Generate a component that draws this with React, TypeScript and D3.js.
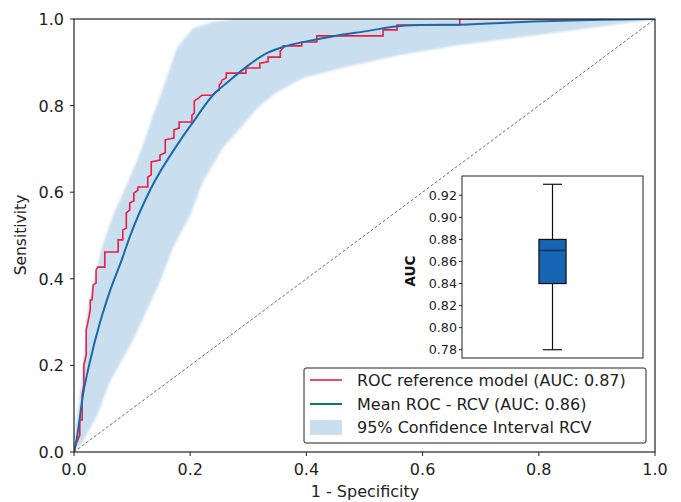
import React from 'react'
import * as d3 from 'd3'

// reference model ROC (staircase corners)
const rocFpr = [0, 0.003, 0.010, 0.010, 0.014, 0.014, 0.017, 0.017, 0.021, 0.021, 0.024, 0.028, 0.028, 0.031, 0.033, 0.038, 0.038, 0.041, 0.053, 0.053, 0.076, 0.076, 0.084, 0.084, 0.090, 0.090, 0.096, 0.096, 0.103, 0.103, 0.110, 0.110, 0.127, 0.127, 0.133, 0.133, 0.148, 0.148, 0.157, 0.157, 0.172, 0.172, 0.181, 0.181, 0.203, 0.203, 0.207, 0.207, 0.215, 0.220, 0.238, 0.243, 0.250, 0.250, 0.253, 0.255, 0.262, 0.262, 0.296, 0.296, 0.320, 0.320, 0.334, 0.334, 0.355, 0.355, 0.360, 0.360, 0.392, 0.392, 0.418, 0.418, 0.532, 0.532, 0.556, 0.556, 0.664, 0.664, 1]
const rocTpr = [0, 0.016, 0.039, 0.074, 0.074, 0.132, 0.155, 0.201, 0.224, 0.282, 0.300, 0.328, 0.351, 0.351, 0.386, 0.390, 0.420, 0.427, 0.427, 0.462, 0.462, 0.490, 0.490, 0.513, 0.517, 0.552, 0.559, 0.575, 0.580, 0.598, 0.605, 0.612, 0.612, 0.635, 0.640, 0.670, 0.674, 0.686, 0.691, 0.721, 0.725, 0.744, 0.748, 0.762, 0.762, 0.778, 0.783, 0.811, 0.818, 0.824, 0.824, 0.831, 0.836, 0.848, 0.852, 0.859, 0.864, 0.875, 0.875, 0.887, 0.887, 0.898, 0.901, 0.912, 0.912, 0.926, 0.933, 0.938, 0.938, 0.947, 0.947, 0.961, 0.961, 0.975, 0.975, 0.986, 0.986, 1, 1]

// mean ROC of the repeated cross validation
const meanFpr = [0, 0.0046, 0.016, 0.028, 0.045, 0.062, 0.082, 0.096, 0.131, 0.182, 0.205, 0.239, 0.269, 0.297, 0.332, 0.366, 0.411, 0.458, 0.504, 0.549, 0.596, 0.664, 0.790, 0.905, 1]
const meanTpr = [0, 0.03, 0.136, 0.212, 0.300, 0.372, 0.443, 0.497, 0.605, 0.718, 0.762, 0.824, 0.859, 0.890, 0.921, 0.938, 0.951, 0.963, 0.972, 0.982, 0.986, 0.987, 0.994, 0.998, 1]

// 95% band edges
const upperFpr = [0, 0.003, 0.010, 0.019, 0.022, 0.030, 0.039, 0.048, 0.067, 0.093, 0.117, 0.136, 0.157, 0.177, 0.205, 0.239, 0.277, 1]
const upperTpr = [0, 0.06, 0.13, 0.24, 0.316, 0.37, 0.42, 0.473, 0.547, 0.624, 0.702, 0.778, 0.855, 0.933, 0.979, 0.993, 1, 1]
const lowerFpr = [0, 0.015, 0.040, 0.062, 0.102, 0.148, 0.170, 0.200, 0.222, 0.256, 0.291, 0.315, 0.349, 0.394, 0.461, 0.561, 0.664, 0.785, 0.905, 1]
const lowerTpr = [0, 0.023, 0.085, 0.162, 0.259, 0.393, 0.471, 0.547, 0.624, 0.702, 0.755, 0.794, 0.831, 0.864, 0.887, 0.917, 0.940, 0.961, 0.982, 1]

// AUC box plot stats
const aucStats = { min: 0.78, q1: 0.84, median: 0.87, q3: 0.88, max: 0.93 }

const mainTicks = [0, 0.2, 0.4, 0.6, 0.8, 1.0]
const insetTicks = [0.78, 0.80, 0.82, 0.84, 0.86, 0.88, 0.90, 0.92]

const legendLabels = ['ROC reference model (AUC: 0.87)', 'Mean ROC - RCV (AUC: 0.86)', '95% Confidence Interval RCV']

const FONT = 'DejaVu Sans, sans-serif'

export default function App() {
  const x = d3.scaleLinear().domain([0, 1]).range([74, 655])
  const y = d3.scaleLinear().domain([0, 1]).range([452, 19])

  const line = d3.line<[number, number]>().x(d => x(d[0])).y(d => y(d[1]))
  const smooth = d3.line<[number, number]>().x(d => x(d[0])).y(d => y(d[1])).curve(d3.curveMonotoneX)

  const rocPts = rocFpr.map((f, i) => [f, rocTpr[i]] as [number, number])
  const meanPts = meanFpr.map((f, i) => [f, meanTpr[i]] as [number, number])
  const upPts = upperFpr.map((f, i) => [f, upperTpr[i]] as [number, number])
  const lowPts = lowerFpr.map((f, i) => [f, lowerTpr[i]] as [number, number]).reverse()
  const bandPath = line(upPts.concat(lowPts)) + 'Z'

  // inset
  const ix = d3.scaleLinear().domain([0.5, 1.5]).range([462, 643])
  const iy = d3.scaleLinear().domain([0.7725, 0.9375]).range([358, 176])
  const bx0 = ix(1 - 0.075), bx1 = ix(1 + 0.075)
  const cx0 = ix(1 - 0.0525), cx1 = ix(1 + 0.0525)

  const bandFill = '#c9deef'
  const red = '#ee1b45'
  const blue = '#1b6aa8'

  return (
    <svg width={681} height={502} style={{ position: 'absolute', left: 0, top: 0, background: '#fff' }} fontFamily={FONT}>
      <defs>
        <filter id="soft" x="-5%" y="-5%" width="110%" height="110%">
          <feGaussianBlur stdDeviation="1.2" />
        </filter>
        <clipPath id="plot">
          <rect x={74} y={19} width={581} height={433} />
        </clipPath>
      </defs>
      <rect width={681} height={502} fill="#fff" />

      <g clipPath="url(#plot)">
        <path d={bandPath} fill={bandFill} filter="url(#soft)" />
        <path d={line([[0, 0], [1, 1]])!} stroke="#6e6e6e" strokeWidth={1} strokeDasharray="3,2" fill="none" />
        <path d={line(rocPts)!} stroke={red} strokeWidth={1.6} fill="none" />
        <path d={smooth(meanPts)!} stroke={blue} strokeWidth={2} fill="none" />
      </g>

      {/* main frame */}
      <rect x={74} y={19} width={581} height={433} fill="none" stroke="#222" strokeWidth={1.2} />
      {mainTicks.map(t => (
        <g key={'x' + t}>
          <line x1={x(t)} x2={x(t)} y1={452} y2={456} stroke="#222" />
          <text x={x(t)} y={475} fontSize={16} textAnchor="middle" fill="#222">{t.toFixed(1)}</text>
        </g>
      ))}
      {mainTicks.map(t => (
        <g key={'y' + t}>
          <line x1={70} x2={74} y1={y(t)} y2={y(t)} stroke="#222" />
          <text x={64} y={y(t) + 6} fontSize={16} textAnchor="end" fill="#222">{t.toFixed(1)}</text>
        </g>
      ))}
      <text x={365} y={497} fontSize={16} textAnchor="middle" fill="#222">1 - Specificity</text>
      <text transform="translate(26,235) rotate(-90)" fontSize={15.5} textAnchor="middle" fill="#222">Sensitivity</text>

      {/* inset */}
      <rect x={462} y={176} width={181} height={182} fill="#fff" stroke="#222" strokeWidth={1} />
      {insetTicks.map(t => (
        <g key={'i' + t}>
          <line x1={459} x2={462} y1={iy(t)} y2={iy(t)} stroke="#222" />
          <text x={457} y={iy(t) + 4.5} fontSize={12.7} textAnchor="end" fill="#222">{t.toFixed(2)}</text>
        </g>
      ))}
      <text transform="translate(415,271) rotate(-90)" fontSize={13.5} fontWeight="bold" textAnchor="middle" fill="#111">AUC</text>
      <line x1={ix(1)} x2={ix(1)} y1={iy(aucStats.max)} y2={iy(aucStats.q3)} stroke="#111" strokeWidth={1.2} />
      <line x1={ix(1)} x2={ix(1)} y1={iy(aucStats.q1)} y2={iy(aucStats.min)} stroke="#111" strokeWidth={1.2} />
      <line x1={cx0} x2={cx1} y1={iy(aucStats.max)} y2={iy(aucStats.max)} stroke="#111" strokeWidth={1.2} />
      <line x1={cx0} x2={cx1} y1={iy(aucStats.min)} y2={iy(aucStats.min)} stroke="#111" strokeWidth={1.2} />
      <rect x={bx0} y={iy(aucStats.q3)} width={bx1 - bx0} height={iy(aucStats.q1) - iy(aucStats.q3)} fill="#1565b4" stroke="#111" strokeWidth={1.2} />
      <line x1={bx0} x2={bx1} y1={iy(aucStats.median)} y2={iy(aucStats.median)} stroke="#0e2f55" strokeWidth={1.5} />

      {/* legend */}
      <rect x={304} y={368} width={342} height={75} rx={2} fill="#fff" fillOpacity={0.9} stroke="#222" strokeWidth={1} />
      <line x1={310} x2={342} y1={380} y2={380} stroke={red} strokeWidth={1.6} />
      <line x1={310} x2={342} y1={404} y2={404} stroke="#0b7a6c" strokeWidth={2} />
      <rect x={310} y={420} width={32} height={15} fill={bandFill} />
      {legendLabels.map((l, i) => (
        <text key={l} x={357} y={386 + i * 23.5} fontSize={16} fill="#222">{l}</text>
      ))}
    </svg>
  )
}
